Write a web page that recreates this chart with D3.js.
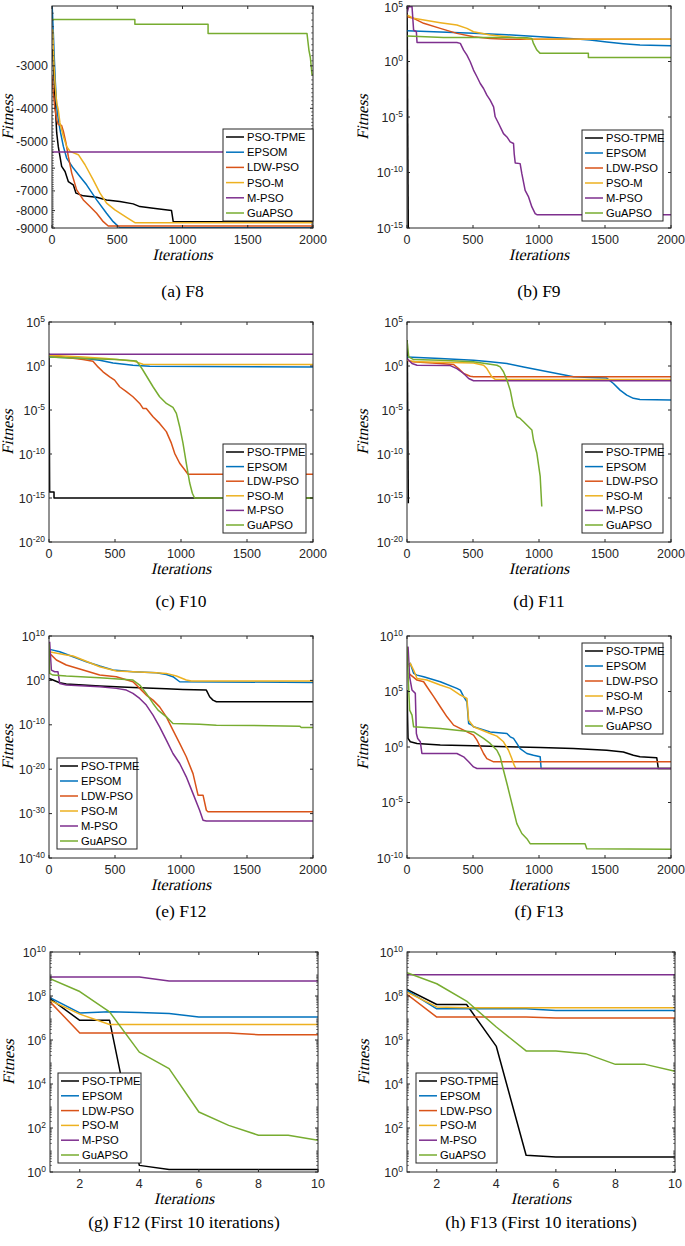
<!DOCTYPE html>
<html><head><meta charset="utf-8">
<script src="https://cdn.jsdelivr.net/npm/d3@7"></script>
<style>body{margin:0;background:#fff}svg{display:block}</style>
</head><body><svg id="c" width="685" height="1246"></svg>
<script>
const algorithms = ["PSO-TPME","EPSOM","LDW-PSO","PSO-M","M-PSO","GuAPSO"];
const colors = ["#000000","#0072BD","#D95319","#EDB120","#7E2F8E","#77AC30"];

// (a) F8  [iteration, fitness]
const f8_tpme = [[5,-2682],[15,-3215],[23,-3767],[36,-4727],[48,-5177],[61,-5540],[74,-5931],[100,-6136],[125,-6568],[163,-6718],[184,-7108],[240,-7238],[342,-7306],[418,-7440],[520,-7524],[622,-7643],[673,-7785],[776,-7871],[916,-8000],[929,-8622],[2000,-8622]];
const f8_epsom = [[0,-1950],[10,-2394],[18,-2869],[26,-3364],[36,-3942],[48,-4318],[66,-4727],[87,-5177],[112,-5604],[163,-5997],[214,-6347],[265,-6718],[342,-7440],[418,-8145],[469,-8622],[520,-8990],[2000,-8990]];
const f8_ldw = [[0,-3215],[10,-3600],[23,-4032],[36,-4318],[48,-4468],[74,-4497],[87,-4673],[107,-5059],[125,-5540],[151,-6204],[189,-6950],[240,-7440],[291,-7785],[342,-8145],[393,-8622],[431,-8878],[2000,-8878]];
const f8_psom = [[5,-2340],[15,-3003],[26,-3518],[36,-3855],[48,-4032],[61,-4415],[87,-4835],[112,-5177],[138,-5355],[202,-5477],[253,-5863],[316,-6493],[368,-7108],[418,-7608],[482,-7963],[571,-8370],[635,-8680],[2000,-8680]];
const f8_mpso = [[0,-5380],[2000,-5380]];
const f8_guapso = [[0,-2190],[635,-2190],[635,-2265],[1196,-2265],[1196,-2410],[1954,-2410],[1969,-2700],[1980,-2840],[1992,-3180],[2000,-3180]];

// (b) F9
const f9_tpme = [[1,8e4],[10,1e-16]];
const f9_epsom = [[0,596],[252,451],[504,342],[757,259],[1009,171],[1261,113],[1387,85.5],[1513,56.5],[1639,39.8],[1765,30.2],[2000,26.3]];
const f9_ldw = [[0,11000],[50,7760],[126,2750],[252,966],[378,342],[504,171],[630,121],[757,100],[2000,100]];
const f9_psom = [[0,15500],[50,7760],[252,3160],[378,1950],[454,966],[504,479],[630,240],[757,171],[908,105],[2000,100]];
const f9_mpso = [[0,21900],[13,87000],[38,87000],[50,676],[71,479],[76,52.5],[378,52.5],[404,42.7],[429,10.7],[454,3.8],[479,0.955],[504,0.17],[530,0.042],[555,0.0105],[580,3.7e-3],[605,9.3e-4],[630,3.3e-4],[656,8.3e-5],[668,1.05e-5],[694,2.6e-6],[731,3.2e-7],[757,1.6e-7],[782,5.7e-8],[807,4.1e-8],[812,5.1e-9],[820,7.2e-10],[857,6.3e-10],[870,7.9e-11],[895,2.5e-12],[921,6.3e-13],[946,7.9e-14],[971,2e-14],[984,1.6e-14],[2000,1.6e-14]];
const f9_guapso = [[0,195],[277,148],[908,141],[946,121],[958,42.7],[984,10.7],[1009,5.4],[1374,5.4],[1374,2.34],[2000,2.34]];

// (c) F10
const f10_tpme = [[0,25.7],[5,4.7e-15],[38,4.7e-15],[38,1e-15],[2000,1e-15]];
const f10_epsom = [[0,10.7],[258,7.6],[384,4.6],[485,2.24],[636,1.23],[763,0.95],[2000,0.79]];
const f10_ldw = [[0,16.6],[258,5.4],[333,3.5],[371,0.79],[409,0.22],[460,0.059],[497,0.025],[535,4.4e-3],[586,1.2e-3],[636,3.2e-4],[687,5.6e-5],[712,1.5e-5],[737,1.5e-5],[788,1.7e-6],[838,3e-7],[889,3.5e-8],[927,1.7e-9],[952,1.2e-10],[990,8.9e-12],[1028,1.6e-12],[1053,5e-13],[2000,5e-13]];
const f10_psom = [[0,16.6],[258,10.7],[434,7.1],[636,3.8],[712,1.6],[2000,1.48]];
const f10_mpso = [[0,21.9],[2000,21.9]];
const f10_guapso = [[0,10.7],[258,7.1],[510,5.4],[662,3.8],[687,1.23],[712,0.33],[750,0.038],[788,4.4e-3],[838,3.2e-4],[889,5.6e-5],[939,2e-5],[965,4.2e-6],[990,1.26e-7],[1015,1.7e-9],[1040,8.9e-12],[1066,5e-14],[1086,3.5e-15],[1103,1e-15],[2000,1e-15]];

// (d) F11
const f11_tpme = [[2,830],[10,2.6e-16]];
const f11_epsom = [[0,10.7],[252,7.1],[504,4.6],[630,2.95],[757,1.9],[883,0.79],[1009,0.33],[1135,0.14],[1261,0.059],[1387,0.049],[1513,0.042],[1564,0.0102],[1614,1.8e-3],[1665,5e-4],[1715,2.1e-4],[1765,1.6e-4],[2000,1.35e-4]];
const f11_ldw = [[0,4.6],[38,2.95],[252,1.9],[353,1.48],[391,0.51],[429,0.14],[479,0.069],[504,0.059],[2000,0.059]];
const f11_psom = [[0,4.6],[76,2.95],[504,2.24],[580,1.23],[605,0.51],[643,0.059],[668,0.03],[2000,0.03]];
const f11_mpso = [[0,7.1],[38,1.9],[76,1.23],[328,1.12],[378,0.51],[429,0.14],[467,0.038],[504,0.021],[2000,0.021]];
const f11_guapso = [[0,832],[13,10.7],[50,5.4],[252,4.6],[504,2.95],[681,1.23],[706,0.79],[731,0.22],[757,0.025],[782,1.8e-3],[807,2.3e-5],[832,1.7e-6],[857,1.1e-6],[883,4.7e-7],[921,1.26e-7],[946,5.4e-8],[958,3.9e-9],[984,1.2e-10],[1009,2.8e-13],[1021,1.1e-16]];

// (e) F12
const f12_tpme = [[0,2.8],[30,1.2],[81,0.3],[131,0.15],[258,0.089],[384,0.052],[636,0.026],[889,0.013],[1015,9.3e-3],[1192,6.6e-3],[1217,2.1e-4],[1242,3.6e-5],[1268,1.55e-5],[2000,1.55e-5]];
const f12_epsom = [[5,9.8e6],[81,2.9e6],[182,2.2e5],[283,1.6e4],[384,1700],[485,214],[636,89],[813,54],[889,22],[939,6.8],[990,0.5],[2000,0.35]];
const f12_ldw = [[5,1.2e6],[56,3.9e4],[131,2900],[258,214],[384,16],[510,6.8],[636,0.5],[687,0.016],[737,4.9e-4],[788,3.6e-5],[838,1.1e-6],[889,6.3e-9],[939,6.3e-12],[990,6.3e-15],[1040,6.3e-18],[1091,1e-21],[1129,1.4e-26],[1167,1.4e-26],[1192,5.6e-30],[1204,2.5e-30],[2000,2.5e-30]];
const f12_psom = [[0,2.9e6],[131,5.1e5],[182,3.1e5],[258,3.9e4],[384,1200],[510,128],[636,89],[813,54],[889,38],[965,9.6],[1040,1.2],[1078,0.7],[2000,0.7]];
const f12_mpso = [[5,5.2e8],[18,214],[43,89],[68,89],[81,0.21],[131,0.089],[384,0.037],[510,0.016],[586,6.6e-3],[636,1.2e-3],[687,8.7e-5],[737,2.8e-6],[788,1.5e-8],[838,3.5e-11],[889,3.5e-14],[939,3.4e-17],[990,1.9e-19],[1040,1.9e-22],[1091,3.2e-26],[1141,5.6e-30],[1167,3.2e-32],[1192,2.2e-32],[2000,2.2e-32]];
const f12_guapso = [[0,2.2e8],[5,38],[30,16],[131,9.6],[384,4],[636,1.2],[687,0.089],[737,1.2e-3],[788,6.5e-6],[826,2e-7],[889,6.3e-9],[939,2e-10],[1141,1.4e-10],[1268,8.3e-11],[1899,5e-11],[1911,2.5e-11],[2000,2.5e-11]];

// (f) F13
const f13_tpme = [[0,1.35e5],[8,5.9],[25,2.95],[76,2.1],[252,1.48],[504,1.29],[757,1.05],[1009,0.89],[1261,0.72],[1513,0.51],[1639,0.36],[1715,0.18],[1765,0.13],[1892,0.11],[1904,0.0115],[2000,0.0115]];
const f13_epsom = [[0,2.4e7],[25,3.4e7],[50,4.3e6],[76,3e6],[126,2.1e6],[252,7.6e5],[378,1.9e5],[404,1.35e5],[429,3.4e4],[454,1.2e4],[467,132],[492,93],[504,66],[630,23],[757,16.6],[782,8.3],[807,5.9],[832,2.1],[857,0.72],[908,0.26],[958,0.18],[1009,0.13],[1016,0.0115],[2000,0.0115]];
const f13_ldw = [[13,4.3e6],[76,1.07e6],[126,7.6e5],[151,2.7e5],[202,3.4e4],[252,4200],[303,525],[353,93],[429,33],[504,11.7],[530,4.2],[555,1.05],[580,0.26],[605,0.091],[656,0.046],[2000,0.046]];
const f13_psom = [[13,1.7e7],[25,3.4e7],[50,8.5e6],[76,1.5e6],[151,1.07e6],[252,3.8e5],[328,1.9e5],[404,4.8e4],[454,2.4e4],[467,263],[504,66],[630,16.6],[681,9.5],[731,2.95],[769,0.51],[794,0.091],[812,0.023],[825,0.0115],[2000,0.0115]];
const f13_mpso = [[8,1.1e9],[20,2.1e6],[38,1.35e5],[63,6.8e4],[71,16.6],[81,5.9],[101,2.95],[113,0.26],[378,0.26],[429,0.13],[467,0.046],[504,0.016],[530,0.0115],[2000,0.0115]];
const f13_guapso = [[0,1.1e9],[13,1.35e5],[20,2100],[38,740],[50,66],[252,47],[504,23],[580,5.9],[630,2.1],[681,0.51],[706,0.13],[731,8.1e-3],[757,5.1e-4],[782,3.2e-5],[807,2e-6],[832,1.26e-7],[870,1.6e-8],[908,5.5e-9],[933,1.95e-9],[1349,1.95e-9],[1362,6.9e-10],[2000,6e-10]];

// (g) F12 first 10 iterations, (h) F13 first 10 iterations
const iters10 = [1,2,3,4,5,6,7,8,9,10];
const f12first_tpme = [7.6e7,7.8e6,7.8e6,2.0,1.3,1.3,1.3,1.3,1.3,1.3];
const f12first_epsom = [8.3e7,1.7e7,1.9e7,1.8e7,1.6e7,1.1e7,1.1e7,1.1e7,1.1e7,1.1e7];
const f12first_ldw = [5.4e7,2.1e6,2.1e6,2.1e6,2.1e6,2.1e6,2.1e6,1.75e6,1.75e6,1.75e6];
const f12first_psom = [6.3e7,1.5e7,5.1e6,5.1e6,5.1e6,5.1e6,5.1e6,5.1e6,5.1e6,5.1e6];
const f12first_mpso = [7.3e8,7.3e8,7.3e8,7.3e8,4.8e8,4.8e8,4.8e8,4.8e8,4.8e8,4.8e8];
const f12first_guapso = [6.2e8,1.6e8,1.9e7,2.8e5,5e4,535,132,47,47,28];
const f13first_tpme = [2e8,4.1e7,4.1e7,5.1e5,5.8,4.8,4.8,4.8,4.8,4.8];
const f13first_epsom = [1.8e8,2.6e7,2.6e7,2.6e7,2.6e7,2.2e7,2.2e7,2.2e7,2.2e7,2.2e7];
const f13first_ldw = [1.2e8,1.1e7,1.1e7,1.1e7,1.1e7,1e7,1e7,1e7,1e7,1e7];
const f13first_psom = [1.5e8,3.2e7,2.95e7,2.95e7,2.95e7,2.95e7,2.95e7,2.95e7,2.95e7,2.95e7];
const f13first_mpso = [9.3e8,9.3e8,9.3e8,9.3e8,9.3e8,9.3e8,9.3e8,9.3e8,9.3e8,9.3e8];
const f13first_guapso = [1.15e9,3.6e8,5.9e7,3.9e6,3.2e5,3.2e5,2.4e5,7.8e4,7.8e4,3.8e4];

// tick values
const xTicks2000 = [0,500,1000,1500,2000];
const xTicks10 = [2,4,6,8,10];
const yTicksF8 = [-9000,-8000,-7000,-6000,-5000,-4000,-3000];
const yTicksF9 = [1e-15,1e-10,1e-5,1e0,1e5];
const yTicksF10 = [1e-20,1e-15,1e-10,1e-5,1e0,1e5];
const yTicksF12 = [1e-40,1e-30,1e-20,1e-10,1e0,1e10];
const yTicksF13 = [1e-10,1e-5,1e0,1e5,1e10];
const yTicksFirst = [1e0,1e2,1e4,1e6,1e8,1e10];
const captions = ["(a) F8","(b) F9","(c) F10","(d) F11","(e) F12","(f) F13","(g) F12 (First 10 iterations)","(h) F13 (First 10 iterations)"];

const pairs = v => v.map((y,i)=>[iters10[i], y]);

const panels = [
 {series:[f8_tpme,f8_epsom,f8_ldw,f8_psom,f8_mpso,f8_guapso], xd:[0,2000], xt:xTicks2000, yd:[-9000,-2000], yt:yTicksF8, plain:true,
  L:52,R:313,T:6,B:228, leg:[223,129,90,92], yl:8, cap:297},
 {series:[f9_tpme,f9_epsom,f9_ldw,f9_psom,f9_mpso,f9_guapso], xd:[0,2000], xt:xTicks2000, yd:[1e-15,1e5], yt:yTicksF9,
  L:407,R:671,T:6,B:228, leg:[582,130,81,91], yl:363, cap:297},
 {series:[f10_tpme,f10_epsom,f10_ldw,f10_psom,f10_mpso,f10_guapso], xd:[0,2000], xt:xTicks2000, yd:[1e-20,1e5], yt:yTicksF10,
  L:49,R:313,T:322,B:542, leg:[223,444,83,89], yl:8, cap:607},
 {series:[f11_tpme,f11_epsom,f11_ldw,f11_psom,f11_mpso,f11_guapso], xd:[0,2000], xt:xTicks2000, yd:[1e-20,1e5], yt:yTicksF10,
  L:407,R:671,T:322,B:542, leg:[582,444,81,89], yl:363, cap:607},
 {series:[f12_tpme,f12_epsom,f12_ldw,f12_psom,f12_mpso,f12_guapso], xd:[0,2000], xt:xTicks2000, yd:[1e-40,1e10], yt:yTicksF12,
  L:49,R:313,T:636,B:858, leg:[57,758,80,91], yl:8, cap:917},
 {series:[f13_tpme,f13_epsom,f13_ldw,f13_psom,f13_mpso,f13_guapso], xd:[0,2000], xt:xTicks2000, yd:[1e-10,1e10], yt:yTicksF13,
  L:407,R:671,T:636,B:858, leg:[582,643,81,91], yl:363, cap:917},
 {series:[f12first_tpme,f12first_epsom,f12first_ldw,f12first_psom,f12first_mpso,f12first_guapso].map(pairs), xd:[1,10], xt:xTicks10, yd:[1,1e10], yt:yTicksFirst, minor:true,
  L:50,R:318,T:952,B:1172, leg:[58,1073,83,90], yl:9, cap:1228},
 {series:[f13first_tpme,f13first_epsom,f13first_ldw,f13first_psom,f13first_mpso,f13first_guapso].map(pairs), xd:[1,10], xt:xTicks10, yd:[1,1e10], yt:yTicksFirst, minor:true,
  L:407,R:675,T:952,B:1172, leg:[416,1073,81,90], yl:364, cap:1228},
];

const svg = d3.select("#c");
const axisColor = "#262626";
const tickFont = "'Liberation Sans', Arial, sans-serif";
const serif = "'Liberation Serif', 'Times New Roman', serif";

function italicText(parent, tx, ty, rot, str, size) {
  return parent.append("text")
    .attr("transform", `translate(${tx},${ty})${rot ? " rotate(-90)" : ""} skewX(-13)`)
    .attr("text-anchor","middle").attr("font-family", serif).attr("font-size", size)
    .attr("fill","#000").text(str);
}

panels.forEach((p, pi) => {
  const g = svg.append("g");
  const x = d3.scaleLinear().domain(p.xd).range([p.L, p.R]);
  const y = d3.scaleLog().domain(p.yd).range([p.B, p.T]);
  const cid = "clip" + pi;
  g.append("clipPath").attr("id", cid).append("rect")
    .attr("x", p.L).attr("y", p.T).attr("width", p.R - p.L).attr("height", p.B - p.T);
  g.append("rect").attr("x", p.L).attr("y", p.T).attr("width", p.R-p.L).attr("height", p.B-p.T).attr("fill","#fff");

  const line = d3.line().x(d => x(d[0])).y(d => y(d[1]));
  const lg = g.append("g").attr("clip-path", `url(#${cid})`);
  p.series.forEach((s, si) => {
    lg.append("path").attr("d", line(s)).attr("fill","none")
      .attr("stroke", colors[si]).attr("stroke-width", 1.5).attr("stroke-linejoin","round");
  });

  // ticks
  const tl = 3;
  p.xt.forEach(v => {
    const xv = x(v);
    g.append("line").attr("x1",xv).attr("x2",xv).attr("y1",p.B).attr("y2",p.B-tl).attr("stroke",axisColor);
    g.append("line").attr("x1",xv).attr("x2",xv).attr("y1",p.T).attr("y2",p.T+tl).attr("stroke",axisColor);
    g.append("text").attr("x", xv).attr("y", p.B + 16).attr("text-anchor","middle")
      .attr("font-family", tickFont).attr("font-size", 12.5).attr("fill", axisColor).text(v);
  });
  p.yt.forEach(v => {
    const yv = y(v);
    g.append("line").attr("x1",p.L).attr("x2",p.L+tl).attr("y1",yv).attr("y2",yv).attr("stroke",axisColor);
    g.append("line").attr("x1",p.R).attr("x2",p.R-tl).attr("y1",yv).attr("y2",yv).attr("stroke",axisColor);
    const t = g.append("text").attr("x", p.L - 4).attr("y", Math.max(yv + 4.5, 12)).attr("text-anchor","end")
      .attr("font-family", tickFont).attr("font-size", 12.5).attr("fill", axisColor);
    if (p.plain) { t.text(String(v)); }
    else {
      const e = Math.round(Math.log10(v));
      t.append("tspan").text("10");
      t.append("tspan").attr("dy", -5).attr("font-size", 8.5).text(String(e));
    }
  });
  // minor ticks
  let minors = [];
  if (p.plain) { for (let v = -9000; v <= -2100; v += 100) if (v % 1000 !== 0) minors.push(v); }
  if (p.minor) { for (let d = 0; d < 10; d++) for (let m = 2; m <= 9; m++) minors.push(m * Math.pow(10, d)); }
  minors.forEach(v => {
    const yv = y(v);
    g.append("line").attr("x1",p.L).attr("x2",p.L+1.8).attr("y1",yv).attr("y2",yv).attr("stroke",axisColor).attr("stroke-width",0.7);
    g.append("line").attr("x1",p.R).attr("x2",p.R-1.8).attr("y1",yv).attr("y2",yv).attr("stroke",axisColor).attr("stroke-width",0.7);
  });

  // frame
  g.append("rect").attr("x", p.L).attr("y", p.T).attr("width", p.R-p.L).attr("height", p.B-p.T)
    .attr("fill","none").attr("stroke", axisColor).attr("stroke-width", 1);

  // axis labels
  const cx = (p.L + p.R) / 2, cy = (p.T + p.B) / 2;
  italicText(g, cx, p.B + 32, false, "Iterations", 16);
  italicText(g, p.yl + 5, cy, true, "Fitness", 16);
  g.append("text").attr("x", cx).attr("y", p.cap).attr("text-anchor","middle")
    .attr("font-family", serif).attr("font-size", 17.5).attr("fill","#000").text(captions[pi]);

  // legend
  const [lx, ly, lw, lh] = p.leg;
  const lgd = g.append("g");
  lgd.append("rect").attr("x", lx).attr("y", ly).attr("width", lw).attr("height", lh)
    .attr("fill","#fff").attr("stroke", axisColor).attr("stroke-width", 1);
  const step = (lh - 16) / 5;
  algorithms.forEach((name, i) => {
    const yy = ly + 8 + i * step;
    lgd.append("line").attr("x1", lx + 3).attr("x2", lx + 21).attr("y1", yy).attr("y2", yy)
      .attr("stroke", colors[i]).attr("stroke-width", 1.5);
    lgd.append("text").attr("x", lx + 24).attr("y", yy + 4).attr("font-family", tickFont)
      .attr("font-size", 11.2).attr("fill", "#000").text(name);
  });
});
</script></body></html>
